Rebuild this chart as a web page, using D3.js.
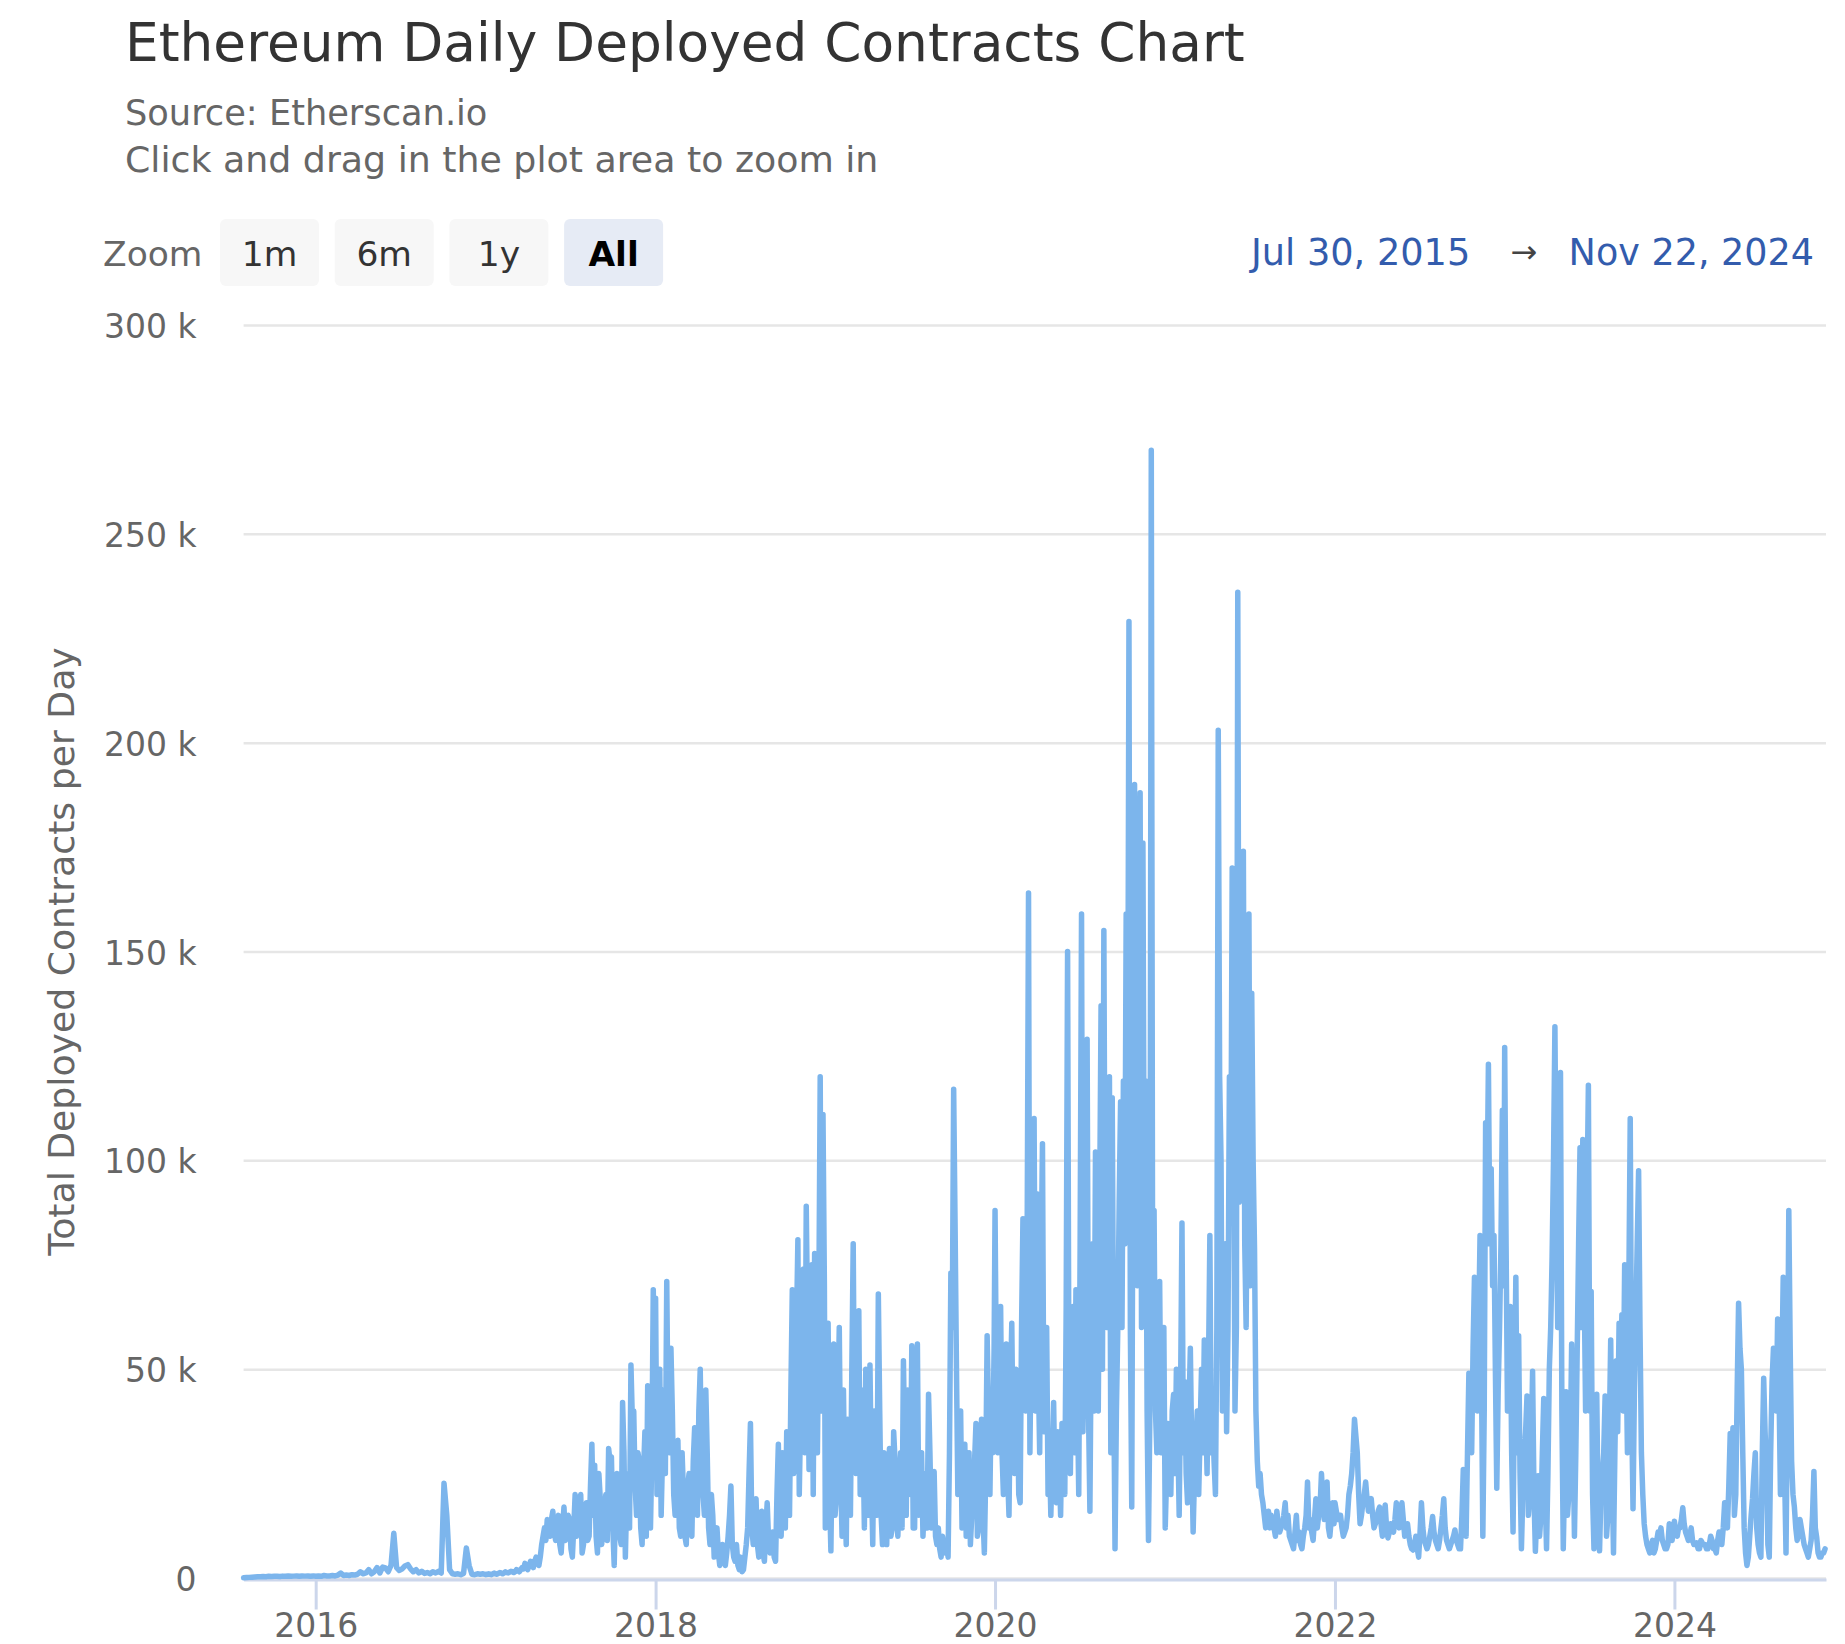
<!DOCTYPE html>
<html><head><meta charset="utf-8">
<script src="https://cdn.jsdelivr.net/npm/d3@7"></script>
<style>
body{margin:0;background:#fff}
svg{display:block;font-family:"DejaVu Sans",sans-serif}
</style>
</head><body>
<svg id="chart" width="1845" height="1644"></svg>
<script>
// ---- DATA (daily deployed contracts, in thousands) ----
// main readings every 6 days from each segment start; "mid" readings 3 days later
const stepDays = 6;
const values2015 = [0.05,0.1,0.15,0.2,0.25,0.3,0.3,0.35,0.3,0.4,0.35,0.4,0.4,0.35,0.45,0.4,0.5,0.4,0.45,0.5,0.4,0.5,0.45,0.5,0.4,0.5];
const values2016 = [0.4,0.5,0.4,0.6,0.5,0.5,0.6,0.5,0.7,1.2,0.6,0.7,0.6,0.8,0.7,0.9,1.5,1,1.2,2,1,1.5,2.5,1.2,2.6,2.4,1.5,3,10.7,2.5,1.8,2.2,2.9,3.2,2.2,1.5,2,1.2,1.6,1.1,1.3,1,1.5,1.2,1.6,1.2,22.7,15,2,1,0.9,1,0.8,1.1,7.2,3,0.9,0.8,1,0.9,1];
const values2017 = [0.8,1,0.8,1.2,0.9,1.3,1,1.5,1.2,1.6,1.3,2,1.5,2.5,3.5,2,4,2.5,5,3,8,12,14,10,16,9,15,6,17,10,14,5,20,12,20,8,18,10,32,27,6,19,12,20,31,29,3,25,10,42,5,25,51,40,15,28,8,35,46,12,69];
const mid2017    = [0.9,0.9,1,1,1.1,1.2,1.2,1.3,1.4,1.5,1.5,1.8,2,2.2,2.8,3,3.2,4,3.5,5,10,9,12,14,11,13,8,12,9,15,7,12,10,16,6,14,9,22,15,10,25,8,16,9,28,12,18,15,8,30,20,12,38,22,30,12,25,10,40,30,45];
const values2018 = [67,33,15,45,71,30,40,15,33,10,20,8,25,10,36,15,50,20,45,12,20,5,12,3,8,3,10,22,5,8,2,1.5,5,12,37,8,19,5,16,4,18,6,11,4,32,10,24,35,15,69,30,81,40,74,89,26,75,77.7,30,120,111];
const mid2018    = [20,50,30,25,35,55,20,28,12,30,10,22,12,28,20,40,25,15,30,8,15,10,6,5,4,6,15,8,4,3,5,2,8,25,12,10,8,12,6,12,9,8,5,20,15,30,12,25,45,25,60,20,65,30,60,35,20,50,65,40,70];
const values2019 = [12,61,6.5,56,20,60,10,20,38,15,80,25,64,45,12,30,51,8,25,68,15,30,8,31,12,28,10,30,52,15,35,55.6,12,56,20,10,25,44,12,25.5,8,7,10,6,5,73,117,50.5,25,12,32,15,8,20,37,12,38,6,58,20,30];
const mid2019    = [40,20,35,15,40,25,45,8,20,50,30,55,20,35,50,15,25,40,15,40,8,20,25,10,35,15,22,12,30,45,20,12,40,15,30,18,12,30,20,10,12,5,8,9,30,60,85,20,40,22,10,30,15,28,10,30,15,25,40,45,55];
const values2020 = [88,30,65,20,56,15,61,25,45,18,86,40,164,60,110,92,30,104,40,20,15,42,18,28,37,20,150,25,65,69,20,159,60,129,16,80,102,40,137,155,60,120,115,7,60,114,119,159,229,17,190,70,188,176,119,9,270,88,30,71,42];
const mid2020    = [45,55,30,40,25,45,30,50,20,60,55,80,30,90,40,50,75,35,60,30,28,20,35,15,25,65,40,55,30,45,80,35,90,40,60,40,65,90,50,70,100,30,50,40,90,60,80,100,60,120,80,130,60,80,40,40,60,40,55,30,60];
const values2021 = [12,37,20,44,50,15,85,47,18,55,11,33,20,50,57,25,82,40,20,203,100,60,35,120,170,40,236,100,174,60,159,140,79,28,25,18,12,16,15,12,16,11,13,18,15,9,7,15,11,7,12,23,14,9,19,15,25,14,23,10,18];
const mid2021    = [25,30,40,25,35,45,30,25,40,30,25,40,35,30,40,50,30,28,60,120,40,80,60,90,110,60,90,120,80,110,70,100,40,22,20,15,14,12,13,10,13,12,15,12,10,8,11,9,8,10,15,12,11,14,12,17,18,15,12,14,13];
const values2022 = [18,14,15,10,12,20,25,38,30,13,18,23,16,19,12,14,17,10,17.5,9.6,13,11,18,12,18,10,13,8,6.7,10,5,18,9,7,10,14.7,9,7,12,19,9,7,9,11.5,8,7,26,10,49,30,72,40,82,10,109,123,98,82,21.5,60,112];
const mid2022    = [16,15,12,11,15,22,30,34,20,15,20,19,17,15,13,16,13,14,12,11,12,14,15,15,14,11,10,7,8,7,11,12,8,8,12,11,8,9,15,12,8,8,10,9,7,15,18,30,35,55,45,60,50,40,90,80,70,50,45,80,70];
const values2023 = [127,40,65,11,72,58,7,30,43.6,20,49.5,6.4,24.5,15,43,7,50,77,132,60,121,7,44.6,20,56,10,55,103,105,40,118,68.6,7,44,6.5,25,43.6,15,57,6,52,61,63,75,30,110,16.6,62,97.5,30,13,8,6,9,7,11,12,8,7,13,9];
const mid2023    = [80,50,30,45,30,25,20,35,15,30,20,15,10,30,20,25,60,100,90,80,40,25,15,30,35,30,80,60,70,90,40,20,25,15,20,30,10,35,25,30,35,45,40,55,70,40,45,80,60,20,10,7,8,6,9,10,9,7,8,10,12];
const values2024 = [13.6,10,12,16.8,11,9,12,8,8.4,7,8.4,8,7,10,7,6,11,8,18,12,34.6,36,20,65.8,50,12,3,10,19,30,8,5,47.8,26,5,47,48.7,62,20,72,6,88,28,17,9,14,10,7,5,9,25.5,9.7,5,6,7];
const mid2024    = [11,12,14,13,10,10,9,8,7,9,8,7,8,9,7,9,10,12,15,22,30,15,45,55,30,6,5,15,25,12,6,30,35,8,30,55,40,45,50,25,40,55,20,12,11,12,8,6,7,15,12,6,5,6];
const segmentStarts = ['2015-07-30','2016-01-01','2017-01-01','2018-01-01','2019-01-01','2020-01-01','2021-01-01','2022-01-01','2023-01-01','2024-01-01'];
const segmentValues = [values2015,values2016,values2017,values2018,values2019,values2020,values2021,values2022,values2023,values2024];
const segmentMids   = [[],[],mid2017,mid2018,mid2019,mid2020,mid2021,mid2022,mid2023,mid2024];
const dateRange = ['2015-07-30','2024-11-22'];
const yTickValues = [0,50000,100000,150000,200000,250000,300000];
const xTickYears = [2016,2018,2020,2022,2024];
const zoomButtons = ['1m','6m','1y','All'];
const selectedButton = 'All';
const titleText = 'Ethereum Daily Deployed Contracts Chart';
const subtitleLines = ['Source: Etherscan.io','Click and drag in the plot area to zoom in'];
const yAxisTitle = 'Total Deployed Contracts per Day';
const rangeTexts = ['Jul 30, 2015','Nov 22, 2024'];

// ---- BUILD ----
const parse = d3.utcParse('%Y-%m-%d');
const points = [];
segmentStarts.forEach((s, k) => {
  const start = parse(s);
  segmentValues[k].forEach((v, i) => points.push({date: d3.utcDay.offset(start, i*stepDays), value: v*1000}));
  segmentMids[k].forEach((v, i) => points.push({date: d3.utcDay.offset(start, i*stepDays + stepDays/2), value: v*1000}));
});
points.sort((a,b)=>a.date-b.date);

const svg = d3.select('#chart');
const plot = {left: 243.6, right: 1826, top: 325, bottom: 1578};
const x = d3.scaleUtc().domain(dateRange.map(parse)).range([plot.left, plot.right]);
const y = d3.scaleLinear().domain([0, 300000]).range([plot.bottom, plot.top]);

// title & subtitle
svg.append('text').attr('x',125).attr('y',61).attr('font-size',53.3).attr('fill','#333333').text(titleText);
svg.append('text').attr('x',125).attr('y',125).attr('font-size',35.2).attr('fill','#666666').text(subtitleLines[0]);
svg.append('text').attr('x',125).attr('y',171.5).attr('font-size',36.3).attr('fill','#666666').text(subtitleLines[1]);

// range selector
svg.append('text').attr('x',103).attr('y',266).attr('font-size',34.5).attr('fill','#666666').text('Zoom');
const btn = svg.append('g').selectAll('g').data(zoomButtons).join('g')
  .attr('transform',(d,i)=>`translate(${220+i*114.7},219)`);
btn.append('rect').attr('width',99).attr('height',67).attr('rx',6)
  .attr('fill',d=>d===selectedButton?'#e6ebf5':'#f7f7f7');
btn.append('text').attr('x',49.5).attr('y',47).attr('text-anchor','middle').attr('font-size',34.5)
  .attr('font-weight',d=>d===selectedButton?'bold':'normal')
  .attr('fill',d=>d===selectedButton?'#000000':'#333333').text(d=>d);
svg.append('text').attr('x',1251).attr('y',265).attr('font-size',36.7).attr('fill','#335cad').text(rangeTexts[0]);
svg.append('text').attr('x',1524).attr('y',263).attr('text-anchor','middle').attr('font-size',32).attr('fill','#444444').text('\u2192');
svg.append('text').attr('x',1814).attr('y',265).attr('text-anchor','end').attr('font-size',36.5).attr('fill','#335cad').text(rangeTexts[1]);

// grid
const yAxis = d3.axisLeft(y).tickValues(yTickValues).tickSize(-(plot.right-plot.left))
  .tickFormat(v => v===0 ? '0' : (v/1000)+' k').tickPadding(47);
const gy = svg.append('g').attr('transform',`translate(${plot.left},0)`).call(yAxis);
gy.select('.domain').remove();
gy.selectAll('.tick line').attr('stroke','#e6e6e6').attr('stroke-width',2.5);
gy.selectAll('.tick text').attr('font-size',33).attr('fill','#666666').attr('font-family','DejaVu Sans').attr('dy','0.38em');

// x axis
const xAxis = d3.axisBottom(x).tickValues(xTickYears.map(yr=>new Date(Date.UTC(yr,0,1))))
  .tickFormat(d3.utcFormat('%Y')).tickSizeInner(30).tickSizeOuter(0).tickPadding(8);
const gx = svg.append('g').attr('transform',`translate(0,${plot.bottom+1.5})`).call(xAxis);
gx.select('.domain').attr('stroke','#ccd6eb').attr('stroke-width',3);
gx.selectAll('.tick line').attr('stroke','#ccd6eb').attr('stroke-width',3);
gx.selectAll('.tick text').attr('font-size',33).attr('fill','#666666').attr('font-family','DejaVu Sans').attr('dy','0.6em');

// y-axis title
svg.append('text').attr('transform',`translate(61,${(plot.top+plot.bottom)/2}) rotate(-90)`)
  .attr('text-anchor','middle').attr('dominant-baseline','central').attr('font-size',36.2).attr('fill','#666666').text(yAxisTitle);

// series
const line = d3.line().x(d=>x(d.date)).y(d=>y(d.value));
svg.append('path').datum(points).attr('d',line).attr('fill','none')
  .attr('stroke','#7cb5ec').attr('stroke-width',5.5).attr('stroke-linejoin','round').attr('stroke-linecap','round');
</script>
</body></html>
